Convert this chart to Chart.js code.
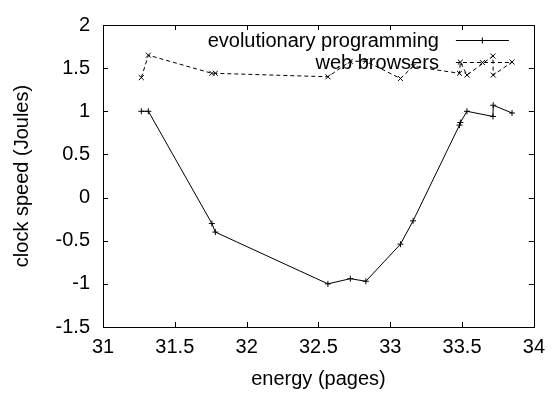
<!DOCTYPE html>
<html>
<head>
<meta charset="utf-8">
<script src="https://cdn.jsdelivr.net/npm/chart.js@4.4.1/dist/chart.umd.min.js"></script>
<style>
  html, body { margin: 0; padding: 0; background: #fff; }
</style>
</head>
<body>
<canvas id="plot" width="553" height="395"></canvas>
<script>
// values
const energy = [31.267, 31.316, 31.758, 31.782, 32.566, 32.722, 32.83, 33.071, 33.159, 33.482, 33.488, 33.534, 33.715, 33.717, 33.848];
const evolutionary = [1.0, 1.0, -0.3, -0.4, -1.0, -0.94, -0.97, -0.54, -0.27, 0.84, 0.87, 1.0, 0.94, 1.07, 0.98];
const webBrowsers = [1.39, 1.65, 1.44, 1.44, 1.40, 1.58, 1.58, 1.38, 1.52, 1.44, 1.57, 1.42, 1.64, 1.42, 1.57];
const xTicks = [31, 31.5, 32, 32.5, 33, 33.5, 34];
const yTicks = [-1.5, -1, -0.5, 0, 0.5, 1, 1.5, 2];

const FONT = "'Liberation Sans', Arial, sans-serif";
Chart.defaults.font.family = FONT;
Chart.defaults.font.size = 20;
Chart.defaults.color = '#000';

const toPoints = ys => energy.map((x, i) => ({x: x, y: ys[i]}));

// gnuplot style key: text right aligned, sample line to its right
const gnuLegend = {
    id: 'gnuLegend',
    beforeDatasetsDraw(chart) {
        const {ctx, chartArea} = chart;
        const textRight = chartArea.right - 95;
        const lineLeft = chartArea.right - 78;
        const lineRight = chartArea.right - 25;
        ctx.save();
        ctx.font = '20px ' + FONT;
        ctx.textAlign = 'right';
        ctx.textBaseline = 'middle';
        chart.data.datasets.forEach((ds, i) => {
            const y = chartArea.top + 15 + i * 22;
            ctx.fillStyle = '#000';
            ctx.fillText(ds.label, textRight, y + 1);
            ctx.strokeStyle = '#000';
            ctx.lineWidth = 1;
            ctx.setLineDash(ds.borderDash || []);
            ctx.beginPath();
            ctx.moveTo(lineLeft, y + 0.5);
            ctx.lineTo(lineRight, y + 0.5);
            ctx.stroke();
            ctx.setLineDash([]);
            Chart.helpers.drawPoint(ctx, {
                pointStyle: ds.pointStyle, radius: ds.pointRadius, borderWidth: 1, rotation: 0
            }, (lineLeft + lineRight) / 2, y + 0.5);
        });
        ctx.restore();
    }
};

// border box with inward ticks on all four sides
const gnuFrame = {
    id: 'gnuFrame',
    afterDatasetsDraw(chart) {
        const {ctx, chartArea: a, scales} = chart;
        const len = 5;
        ctx.save();
        ctx.strokeStyle = '#000';
        ctx.lineWidth = 1;
        ctx.beginPath();
        xTicks.forEach(v => {
            const px = Math.round(scales.x.getPixelForValue(v)) + 0.5;
            ctx.moveTo(px, a.bottom);
            ctx.lineTo(px, a.bottom - len);
            ctx.moveTo(px, a.top);
            ctx.lineTo(px, a.top + len);
        });
        yTicks.forEach(v => {
            const py = Math.round(scales.y.getPixelForValue(v)) + 0.5;
            ctx.moveTo(a.left, py);
            ctx.lineTo(a.left + len, py);
            ctx.moveTo(a.right, py);
            ctx.lineTo(a.right - len, py);
        });
        ctx.stroke();
        ctx.strokeRect(Math.round(a.left) + 0.5, Math.round(a.top) + 0.5,
            Math.round(a.right - a.left), Math.round(a.bottom - a.top));
        ctx.restore();
    }
};

new Chart(document.getElementById('plot'), {
    type: 'scatter',
    data: {
        datasets: [{
                label: 'evolutionary programming',
                data: toPoints(evolutionary),
                showLine: true,
                borderColor: '#000',
                backgroundColor: '#000',
                borderWidth: 1,
                pointStyle: 'cross',
                pointRadius: 3,
                pointBorderWidth: 1,
                tension: 0
            },
            {
                label: 'web browsers',
                data: toPoints(webBrowsers),
                showLine: true,
                borderColor: '#000',
                backgroundColor: '#000',
                borderWidth: 1,
                borderDash: [4, 3],
                pointStyle: 'crossRot',
                pointRadius: 3.5,
                pointBorderWidth: 1,
                tension: 0
            }
        ]
    },
    options: {
        responsive: false,
        animation: false,
        layout: {
            padding: {
                left: 0,
                right: 15,
                top: 12,
                bottom: 0
            }
        },
        plugins: {
            legend: {
                display: false
            },
            tooltip: {
                enabled: false
            }
        },
        scales: {
            x: {
                type: 'linear',
                min: 31,
                max: 34,
                afterFit: s => { s.height = 68; },
                afterBuildTicks: s => { s.ticks = xTicks.map(v => ({value: v})); },
                grid: { display: false, drawTicks: false },
                border: { display: false },
                ticks: {
                    padding: 8,
                    maxRotation: 0,
                    autoSkip: false,
                    callback: v => String(v)
                },
                title: {
                    display: true,
                    text: 'energy (pages)',
                    padding: { top: 0, bottom: 4 }
                }
            },
            y: {
                type: 'linear',
                min: -1.5,
                max: 2,
                afterFit: s => { s.width = 103; },
                afterBuildTicks: s => { s.ticks = yTicks.map(v => ({value: v})); },
                grid: { display: false, drawTicks: false },
                border: { display: false },
                ticks: {
                    padding: 13,
                    autoSkip: false,
                    callback: v => String(v)
                },
                title: {
                    display: true,
                    text: 'clock speed (Joules)',
                    padding: { top: 10, bottom: 0 }
                }
            }
        }
    },
    plugins: [gnuLegend, gnuFrame]
});
</script>
</body>
</html>
